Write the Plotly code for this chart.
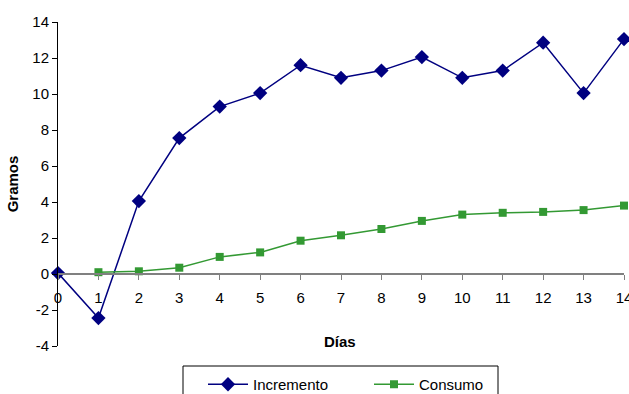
import plotly.graph_objects as go

dias = list(range(15))
incremento = [0.05, -2.45, 4.05, 7.55, 9.3, 10.05, 11.6, 10.9, 11.3, 12.05, 10.9, 11.3, 12.85, 10.05, 13.05]
dias_consumo = list(range(1, 15))
consumo = [0.1, 0.15, 0.35, 0.95, 1.2, 1.85, 2.15, 2.5, 2.95, 3.3, 3.4, 3.45, 3.55, 3.8]
y_ticks = [-4, -2, 0, 2, 4, 6, 8, 10, 12, 14]
y_tick_text = ["-4", "-2", "0", "2", "4", "6", "8", "10", "12", "14"]

FONT = "Liberation Sans, Arial, sans-serif"
y_min, y_max = -4, 14
W, H = 629, 394
L, R, T, B = 58, 5, 22, 48
pw, ph = W - L - R, H - T - B


def px_x(p):
    return (p - L) / pw


def px_y(p):
    return (H - B - p) / ph


fig = go.Figure()
fig.add_trace(go.Scatter(x=dias, y=incremento, name="Incremento", mode="lines+markers",
                         line=dict(color="#000080", width=1.5),
                         marker=dict(symbol="diamond", size=11, color="#000080"),
                         cliponaxis=False))
fig.add_trace(go.Scatter(x=dias_consumo, y=consumo, name="Consumo", mode="lines+markers",
                         line=dict(color="#339933", width=1.5),
                         marker=dict(symbol="square", size=8, color="#339933"),
                         cliponaxis=False))

fig.update_layout(
    width=W, height=H,
    margin=dict(l=L, r=R, t=T, b=B, autoexpand=False),
    paper_bgcolor="white", plot_bgcolor="white",
    font=dict(family=FONT, size=15, color="black"),
    showlegend=True,
    legend=dict(orientation="h", x=px_x(203), xanchor="left", y=px_y(368), yanchor="top",
                borderwidth=0, bgcolor="rgba(0,0,0,0)", font=dict(size=15),
                itemwidth=40, entrywidth=111, traceorder="normal"),
    xaxis=dict(range=[0, 14], tickvals=dias, showgrid=False, zeroline=False,
               anchor="free", position=(0 - y_min) / (y_max - y_min),
               showline=True, linecolor="#808080", linewidth=1.5,
               ticks="outside", ticklen=5, tickcolor="#808080",
               ticklabelstandoff=5, tickfont=dict(size=15),
               ticklabeloverflow="allow",
               automargin=False),
    yaxis=dict(range=[y_min, y_max], tickvals=y_ticks, ticktext=y_tick_text,
               showgrid=False, zeroline=False,
               showline=True, linecolor="black", linewidth=1,
               ticks="outside", ticklen=5, tickcolor="black",
               title=dict(text="<b>Gramos</b>", standoff=10, font=dict(size=15)),
               automargin=False),
    shapes=[dict(type="rect", xref="paper", yref="paper",
                 x0=px_x(183), x1=px_x(498), y0=px_y(366), y1=px_y(400),
                 line=dict(color="black", width=1), fillcolor="rgba(0,0,0,0)")],
    annotations=[dict(text="<b>Días</b>", x=px_x(340), xref="paper", y=px_y(341), yref="paper",
                      xanchor="center", yanchor="middle", showarrow=False,
                      font=dict(size=15))],
)

fig.write_html("out.html", config={"displayModeBar": False},
               post_script="document.body.style.margin='0';")
